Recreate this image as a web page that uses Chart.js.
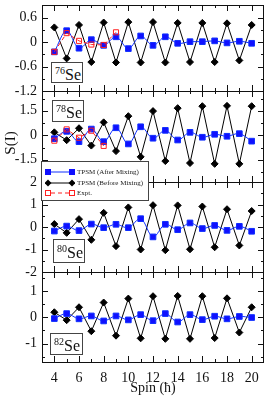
<!DOCTYPE html>
<html>
<head>
<meta charset="utf-8">
<script src="https://cdn.jsdelivr.net/npm/chart.js@4.4.0/dist/chart.umd.min.js"></script>
<style>
  body { margin: 0; background: #fff; }
  #wrap { position: relative; width: 269px; height: 397px; overflow: hidden; font-family: "Liberation Serif", serif; }
  canvas { position: absolute; left: 0; top: 0; }
  .nuc { position: absolute; border: 1px solid #444; background: #fff; color: #111; box-sizing: border-box;
         font-size: 16px; line-height: 1; padding-left: 3px; white-space: nowrap; }
  .nuc sup { font-size: 10px; vertical-align: 6px; }
  #ylab { position: absolute; left: 10px; top: 143px; transform: translate(-50%, -50%) rotate(-90deg);
          font-size: 15px; color: #111; white-space: nowrap; }
  #legend { position: absolute; left: 41px; top: 161px; width: 108px; height: 40px; border: 1px solid #444;
            background: #fff; box-sizing: border-box; font-size: 7px; color: #222; }
  #legend .row { position: absolute; left: 0; height: 10px; width: 100%; }
  #legend svg { position: absolute; left: 3px; top: 0; }
  #legend span { position: absolute; left: 35px; top: 0; line-height: 10px; white-space: nowrap; }
</style>
</head>
<body>
<div id="wrap">
  <canvas id="p76" width="269" height="397"></canvas>
  <canvas id="p78" width="269" height="397"></canvas>
  <canvas id="p80" width="269" height="397"></canvas>
  <canvas id="p82" width="269" height="397"></canvas>

  <div class="nuc" style="left:51px;top:62px;width:32px;height:21px;padding-top:3px"><sup>76</sup>Se</div>
  <div class="nuc" style="left:52px;top:100px;width:32px;height:22px;padding-top:3px"><sup>78</sup>Se</div>
  <div class="nuc" style="left:53px;top:239px;width:32px;height:24px;padding-top:4px"><sup>80</sup>Se</div>
  <div class="nuc" style="left:50px;top:333px;width:33px;height:22px;padding-top:3px"><sup>82</sup>Se</div>

  <div id="ylab">S(I)</div>

  <div id="legend">
    <div class="row" style="top:5px">
      <svg width="30" height="10"><line x1="3" y1="5" x2="27" y2="5" stroke="#1030ff" stroke-width="1"/>
        <rect x="0" y="2" width="6" height="6" fill="#1010ff"/><rect x="24" y="2" width="6" height="6" fill="#1010ff"/></svg>
      <span>TPSM (After Mixing)</span>
    </div>
    <div class="row" style="top:16px">
      <svg width="30" height="10"><line x1="3" y1="5" x2="27" y2="5" stroke="#000" stroke-width="1"/>
        <polygon points="3,1.5 6.5,5 3,8.5 -0.5,5" fill="#000"/><polygon points="27,1.5 30.5,5 27,8.5 23.5,5" fill="#000"/></svg>
      <span>TPSM (Before Mixing)</span>
    </div>
    <div class="row" style="top:26px">
      <svg width="30" height="10"><line x1="6" y1="5" x2="24" y2="5" stroke="#ff2020" stroke-width="1" stroke-dasharray="4,3"/>
        <rect x="0.5" y="2.5" width="5" height="5" fill="none" stroke="#ff2020"/><rect x="24.5" y="2.5" width="5" height="5" fill="none" stroke="#ff2020"/></svg>
      <span>Expt.</span>
    </div>
  </div>
</div>

<script>
// spins on the x axis
const spins = [4, 5, 6, 7, 8, 9, 10, 11, 12, 13, 14, 15, 16, 17, 18, 19, 20];
const xTicks = [4, 6, 8, 10, 12, 14, 16, 18, 20];

// 76Se
const se76After = [-0.24, 0.28, -0.15, 0.06, -0.08, 0.13, -0.16, 0.15, -0.08, 0.13, -0.03, 0.01, 0.01, 0.03, -0.02, 0.02, -0.03];
const se76Before = [0.36, -0.40, 0.42, -0.49, 0.48, -0.50, 0.49, -0.50, 0.49, -0.50, 0.47, -0.49, 0.47, -0.49, 0.46, -0.45, 0.42];
const se76Expt = [-0.24, 0.22, 0.03, -0.06, -0.07, 0.24];
const se76Ticks = [-1.2, -0.6, 0, 0.6];

// 78Se
const se78After = [-0.21, 0.24, -0.39, 0.38, -0.39, 0.46, -0.53, 0.52, -0.18, 0.30, -0.29, 0.18, -0.12, 0.06, -0.06, 0.10, -0.36];
const se78Before = [0.18, -0.30, 0.43, -0.63, 0.79, -0.97, 1.17, -1.32, 1.48, -1.58, 1.66, -1.70, 1.78, -1.75, 1.80, -1.75, 1.78];
const se78Expt = [-0.33, 0.36, -0.15, 0.28, -0.65];
const se78Ticks = [-1.5, 0, 1.5];

// 80Se
const se80After = [-0.18, 0.04, -0.16, 0.13, -0.03, 0.12, -0.03, 0.37, -0.44, 0.12, -0.12, 0.18, -0.07, 0.07, -0.15, 0.03, -0.19];
const se80Before = [0.13, -0.26, 0.35, -0.57, 0.63, -0.85, 0.87, -1.00, 0.97, -1.03, 0.96, -0.99, 0.91, -0.90, 0.79, -0.82, 0.71];
const se80Ticks = [-2, -1, 0, 1, 2];

// 82Se
const se82After = [-0.05, 0.14, -0.06, 0.05, -0.14, 0.05, -0.10, 0.10, -0.13, 0.14, -0.18, 0.10, -0.09, 0.04, -0.06, 0.03, -0.01];
const se82Before = [0.19, -0.11, 0.38, -0.53, 0.56, -0.70, 0.71, -0.80, 0.80, -0.82, 0.81, -0.82, 0.80, -0.79, 0.72, -0.58, 0.38];
const se82Ticks = [-1, 0, 1];

const W = 269, H = 397, LEFT = 42, RIGHT = 268;
const FONT = '"Liberation Serif", serif';
const INK = '#111';

const toXY = (vals) => vals.map((v, i) => ({ x: spins[i], y: v }));

// frame + inward ticks on all four sides (xmgrace look)
const framePlugin = {
  id: 'frame',
  afterDatasetsDraw(chart, args, opts) {
    const { ctx, chartArea: a, scales } = chart;
    const x = scales.x, y = scales.y;
    ctx.save();
    ctx.strokeStyle = INK;
    ctx.lineWidth = 1;
    ctx.beginPath();
    for (let s = 4; s <= 20; s++) {
      const px = Math.round(x.getPixelForValue(s)) + 0.5;
      const len = s % 2 === 0 ? 6 : 3;
      ctx.moveTo(px, a.bottom); ctx.lineTo(px, a.bottom - len);
      ctx.moveTo(px, a.top); ctx.lineTo(px, a.top + len);
    }
    const step = opts.minor;
    const lo = Math.ceil(y.min / step - 1e-9), hi = Math.floor(y.max / step + 1e-9);
    for (let k = lo; k <= hi; k++) {
      const v = k * step;
      const py = Math.round(y.getPixelForValue(v)) + 0.5;
      const isMajor = opts.major.some(t => Math.abs(t - v) < 1e-6);
      const len = isMajor ? 6 : 3;
      ctx.moveTo(a.left, py); ctx.lineTo(a.left + len, py);
      ctx.moveTo(a.right, py); ctx.lineTo(a.right - len, py);
    }
    ctx.stroke();
    ctx.strokeRect(Math.round(a.left) + 0.5, Math.round(a.top) + 0.5,
                   Math.round(a.right - a.left) - 1, Math.round(a.bottom - a.top));
    ctx.restore();
  }
};

function makePanel(id, cfg) {
  const datasets = [
    {
      label: 'TPSM (Before Mixing)',
      data: toXY(cfg.before),
      borderColor: '#000', backgroundColor: '#000', borderWidth: 1,
      pointStyle: 'rectRot', pointRadius: 3.5, order: 3
    },
    {
      label: 'TPSM (After Mixing)',
      data: toXY(cfg.after),
      borderColor: '#1030ff', backgroundColor: '#1010ff', borderWidth: 1,
      pointStyle: 'rect', pointRadius: 4, tension: 0.35, order: 2
    }
  ];
  if (cfg.expt) {
    datasets.push({
      label: 'Expt.',
      data: toXY(cfg.expt),
      borderColor: '#ff2020', backgroundColor: 'rgba(255,255,255,0)', borderWidth: 1,
      borderDash: [4, 3], pointStyle: 'rect', pointRadius: 3.6, pointBorderWidth: 1, order: 1
    });
  }

  new Chart(document.getElementById(id), {
    type: 'line',
    data: { datasets },
    options: {
      responsive: false,
      animation: false,
      layout: { padding: { top: cfg.top, bottom: cfg.last ? 0 : H - cfg.bottom, left: 0, right: W - RIGHT } },
      plugins: {
        legend: { display: false },
        tooltip: { enabled: false },
        frame: { major: cfg.yTicks, minor: cfg.minor }
      },
      scales: {
        x: {
          type: 'linear', min: 3, max: 21,
          grid: { display: false, drawTicks: false, tickLength: 0 }, border: { display: false },
          ticks: { display: !!cfg.last, autoSkip: false, maxRotation: 0, padding: 8, color: INK,
                   font: { family: FONT, size: 14 } },
          title: { display: !!cfg.last, text: 'Spin (ħ)', color: INK, padding: { top: 0, bottom: 0 },
                   font: { family: FONT, size: 14 } },
          afterBuildTicks: (s) => { s.ticks = xTicks.map(v => ({ value: v })); },
          afterFit: (s) => {
            s.height = cfg.last ? H - cfg.bottom : 0;
            s.paddingLeft = 0; s.paddingRight = 0;
          }
        },
        y: {
          min: cfg.min, max: cfg.max,
          grid: { display: false, drawTicks: false, tickLength: 0 }, border: { display: false },
          ticks: { padding: 5, color: INK, font: { family: FONT, size: 14 }, callback: (v) => String(v) },
          afterBuildTicks: (s) => { s.ticks = cfg.yTicks.map(v => ({ value: v })); },
          afterFit: (s) => {
            s.width = LEFT;
            s.paddingTop = 0; s.paddingBottom = 0;
          }
        }
      }
    },
    plugins: [framePlugin]
  });
}

makePanel('p76', { before: se76Before, after: se76After, expt: se76Expt, yTicks: se76Ticks, minor: 0.3,
                   min: -1.2, max: 0.91, top: 1, bottom: 91 });
makePanel('p78', { before: se78Before, after: se78After, expt: se78Expt, yTicks: se78Ticks, minor: 0.75,
                   min: -2.86, max: 2.71, top: 91, bottom: 182 });
makePanel('p80', { before: se80Before, after: se80After, yTicks: se80Ticks, minor: 0.5,
                   min: -2, max: 2, top: 182, bottom: 272 });
makePanel('p82', { before: se82Before, after: se82After, yTicks: se82Ticks, minor: 0.5,
                   min: -1.7, max: 1.72, top: 272, bottom: 362, last: true });
</script>
</body>
</html>
